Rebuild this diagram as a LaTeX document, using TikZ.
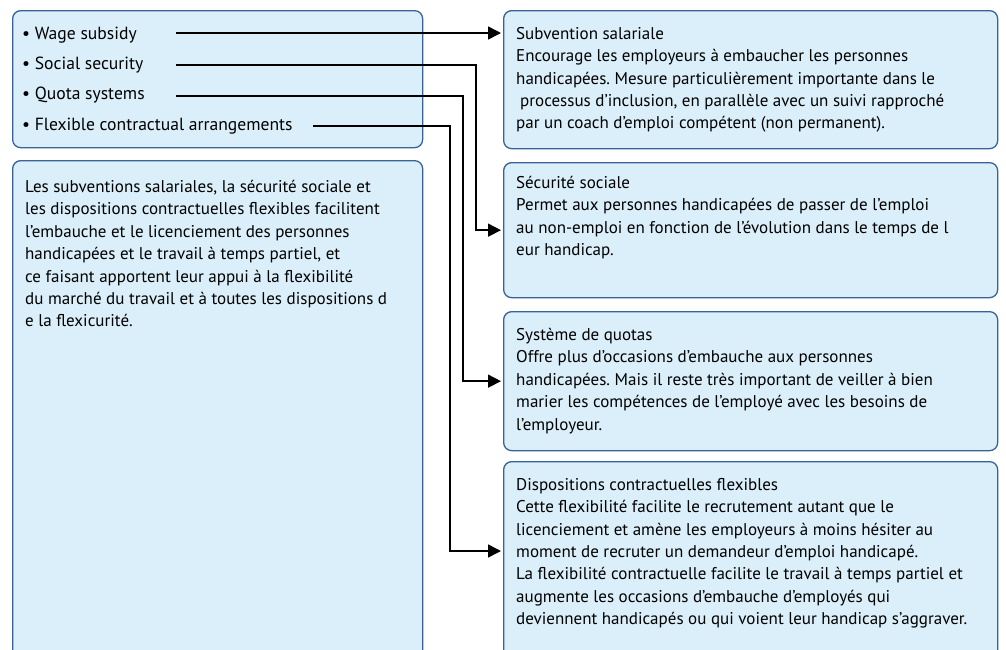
\documentclass[tikz,border=0pt]{standalone}
\usepackage{fontspec}
\setmainfont{PT Sans}
\frenchspacing
\usetikzlibrary{arrows.meta, positioning, calc}
\definecolor{boxfill}{RGB}{218,239,249}
\definecolor{boxline}{RGB}{58,98,148}
\begin{document}
\begin{tikzpicture}[x=1pt,y=-1pt,
      info box/.style={rectangle,rounded corners=8pt,draw=boxline,fill=boxfill,line width=1.3pt,anchor=north west,inner sep=0pt},
      box text/.style={anchor=north west,inner sep=0pt,align=left,font=\fontsize{17}{22.4}\selectfont},
      item/.style={anchor=base west,inner sep=0pt,font=\fontsize{17.6}{22.4}\selectfont},
      link/.style={line width=1.6pt,-{Triangle[length=13pt,width=13pt]},shorten >=2pt}]
  \useasboundingbox (0,0) rectangle (1006,649);
  % boxes
  \node[info box, minimum width=410pt, minimum height=137pt] (items) at (12,10) {};
  \node[info box, minimum width=410pt, minimum height=500pt] (note) at (12,160) {};
  \node[info box, minimum width=494pt, minimum height=138pt] (sub) at (503,10) {};
  \node[info box, minimum width=494pt, minimum height=135pt] (soc) at (503,162) {};
  \node[info box, minimum width=494pt, minimum height=139pt] (quota) at (503,311) {};
  \node[info box, minimum width=494pt, minimum height=200pt] (flex) at (503,461) {};
  % list of measures
  \node[item] (wage) at (22,39) {• Wage subsidy};
  \node[item] (social) at (22,69) {• Social security};
  \node[item] (quotas) at (22,99) {• Quota systems};
  \node[item] (flexible) at (22,130) {• Flexible contractual arrangements};
  % texts
  \node[box text] (notetext) at (25,180) {Les subventions salariales, la sécurité sociale et\\
    les dispositions contractuelles flexibles facilitent\\
    l’embauche et le licenciement des personnes\\
    handicapées et le travail à temps partiel, et\\
    ce faisant apportent leur appui à la flexibilité\\
    du marché du travail et à toutes les dispositions d\\
    e la flexicurité.};
  \node[box text] (subtext) at (516,27) {Subvention salariale\\
    Encourage les employeurs à embaucher les personnes\\
    handicapées. Mesure particulièrement importante dans le\\
    \hspace*{4pt}processus d’inclusion, en parallèle avec un suivi rapproché\\
    par un coach d’emploi compétent (non permanent).};
  \node[box text] (soctext) at (516,176) {Sécurité sociale\\
    Permet aux personnes handicapées de passer de l’emploi\\
    au non-emploi en fonction de l’évolution dans le temps de l\\
    eur handicap.};
  \node[box text] (quotatext) at (516,328) {Système de quotas\\
    Offre plus d’occasions d’embauche aux personnes\\
    handicapées. Mais il reste très important de veiller à bien\\
    marier les compétences de l’employé avec les besoins de\\
    l’employeur.};
  \node[box text] (flextext) at (516,478) {Dispositions contractuelles flexibles\\
    Cette flexibilité facilite le recrutement autant que le\\
    licenciement et amène les employeurs à moins hésiter au\\
    moment de recruter un demandeur d’emploi handicapé.\\
    La flexibilité contractuelle facilite le travail à temps partiel et\\
    augmente les occasions d’embauche d’employés qui\\
    deviennent handicapés ou qui voient leur handicap s’aggraver.};
  % connectors
  \coordinate (wageout) at (176,33);
  \coordinate (socialout) at (176,65);
  \coordinate (quotasout) at (176,96);
  \coordinate (flexout) at (313,126);
  \coordinate (flexin) at ([yshift=-90pt]flex.north west);
  \draw[link] (wageout) -- (sub.west |- wageout);
  \draw[link] (socialout) -| ([xshift=-27pt]soc.west) -- (soc.west);
  \draw[link] (quotasout) -| ([xshift=-40pt]quota.west) -- (quota.west);
  \draw[link] (flexout) -| ([xshift=-53pt]flexin) -- (flexin);
\end{tikzpicture}
\end{document}
